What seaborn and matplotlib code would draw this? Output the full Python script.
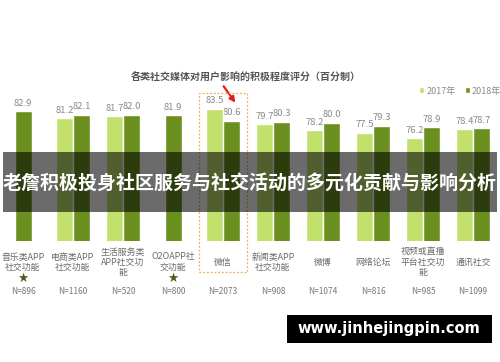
import numpy as np
import pandas as pd
import matplotlib
matplotlib.use("Agg")
import matplotlib.pyplot as plt
import matplotlib.transforms as mtransforms
from matplotlib.patches import Rectangle, Patch
import seaborn as sns

categories = ["音乐类APP\n社交功能", "电商类APP\n社交功能", "生活服务类\nAPP社交功\n能",
              "O2OAPP社\n交功能", "微信", "新闻类APP\n社交功能", "微博", "网络论坛",
              "视频或直播\n平台社交功\n能", "通讯社交"]
values_2017 = [np.nan, 81.2, 81.7, np.nan, 83.5, 79.7, 78.2, 77.5, 76.2, 78.4]
values_2018 = [82.9, 82.1, 82.0, 81.9, 80.6, 80.3, 80.0, 79.3, 78.9, 78.7]
sample_sizes = ["N=896", "N=1160", "N=520", "N=800", "N=2073", "N=908", "N=1074", "N=816", "N=985", "N=1099"]
starred = [True, False, False, True, False, False, False, False, False, False]
years = ["2017年", "2018年"]
title = "各类社交媒体对用户影响的积极程度评分（百分制）"
overlay = "老詹积极投身社区服务与社交活动的多元化贡献与影响分析"
watermark = "www.jinhejingpin.com"

sns.set_theme(style="white")
plt.rcParams["font.family"] = ["Noto Sans CJK SC", "DejaVu Sans"]

c17 = "#c2e06c"
c18 = "#6c901f"
gray_txt = "#8a8a8a"

rows = []
for i, c in enumerate(categories):
    rows.append({"cat": c, "year": years[0], "val": values_2017[i], "idx": i})
    rows.append({"cat": c, "year": years[1], "val": values_2018[i], "idx": i})
df = pd.DataFrame(rows)

W, H = 500, 362
fig = plt.figure(figsize=(W / 100, H / 100), dpi=100)
ax = fig.add_axes([0, (H - 241) / H, 1, 141 / H])

sns.barplot(data=df, x="cat", y="val", hue="year", order=categories, hue_order=years,
            palette=[c17, c18], width=0.68, dodge=True, saturation=1, legend=False, ax=ax,
            zorder=3, errorbar=None)
ax.set_ylim(50.5, 85.75)
ax.set_xlim(-0.46, 9.54)
for s in ax.spines.values():
    s.set_visible(False)
ax.set_xticks([])
ax.set_yticks([])
ax.set_xlabel("")
ax.set_ylabel("")

# center the lone 2018 bar where 2017 is missing, then label bars
for p in ax.patches:
    w = p.get_width()
    if w <= 0 or np.isnan(p.get_height()):
        continue
    cx = p.get_x() + w / 2
    i = int(round(cx))
    if np.isnan(values_2017[i]):
        p.set_x(i - w / 2)
        cx = i
    top = p.get_height()
    ax.text(cx, top + 0.9, f"{top:.1f}", ha="center", va="bottom", fontsize=6.8,
            color=gray_txt, zorder=2)

bt = mtransforms.blended_transform_factory(ax.transData, fig.transFigure)
for i, c in enumerate(categories):
    ax.text(i, 1 - 262 / H, c, transform=bt, ha="center", va="center", fontsize=6.4,
            color="#6a6a6a", linespacing=1.15)
    ax.text(i, 1 - 291 / H, sample_sizes[i], transform=bt, ha="center", va="center",
            fontsize=6, color="#777777")
    if starred[i]:
        ax.text(i, 1 - 278 / H, "★", transform=bt, ha="center", va="center", fontsize=9,
                color="#4b5a1e", family=["DejaVu Sans"])

# highlight box around 微信
box = Rectangle((3.52, 1 - 272 / H), 0.96, (272 - 93) / H, transform=bt, fill=False,
                edgecolor="#f0b050", linestyle=(0, (1.5, 1.5)), linewidth=0.9, clip_on=False,
                zorder=4)
ax.add_patch(box)
ax.annotate("", xy=(237 / W, 1 - 105 / H), xytext=(222 / W, 1 - 84 / H),
            xycoords="figure fraction", textcoords="figure fraction",
            arrowprops=dict(arrowstyle="-|>", color="#e02020", lw=1.6, mutation_scale=8))

fig.text(246 / W, 1 - 77 / H, title, ha="center", va="center", fontsize=7.2,
         color="#555555", fontweight="bold")

handles = [Patch(facecolor=c17), Patch(facecolor=c18)]
fig.legend(handles, years, loc="center", bbox_to_anchor=(460 / W, 1 - 91 / H), ncol=2,
           frameon=False, fontsize=6.5, handlelength=0.6, handleheight=0.6,
           handletextpad=0.2, columnspacing=1.0, labelcolor="#8a8a8a")

# overlay band
fig.patches.append(Rectangle((3 / W, 1 - 212 / H), 494 / W, 60 / H, transform=fig.transFigure,
                             facecolor="black", alpha=0.58, edgecolor="none", zorder=10))
fig.text(250 / W, 1 - 183 / H, overlay, ha="center", va="center", fontsize=13.7,
         color="white", fontweight="bold", zorder=11)

fig.patches.append(Rectangle((287 / W, 1 - 343 / H), 205 / W, 28 / H, transform=fig.transFigure,
                             facecolor="black", edgecolor="none", zorder=10))
fig.text(389 / W, 1 - 329 / H, watermark, ha="center", va="center", fontsize=10.5,
         color="white", fontweight="bold", family=["DejaVu Sans"], zorder=11)

fig.savefig("out.png", dpi=100)
